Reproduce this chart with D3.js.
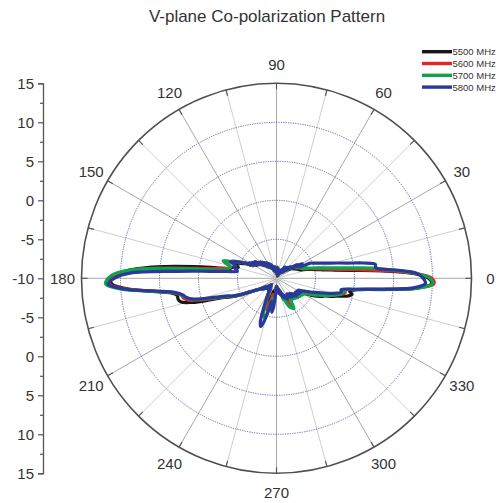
<!DOCTYPE html>
<html><head><meta charset="utf-8">
<script src="https://cdn.jsdelivr.net/npm/d3@7"></script>
<style>body{margin:0;background:#fff} svg{display:block} text{font-family:"Liberation Sans",Arial,sans-serif}</style>
</head><body><svg id="c" width="499" height="503"></svg>
<script>
const angles=[0,2,4,6,8,10,12,14,16,18,20,22,24,26,28,30,32,34,36,38,40,42,44,46,48,50,52,54,56,58,60,62,64,66,68,70,72,74,76,78,80,82,84,86,88,90,92,94,96,98,100,102,104,106,108,110,112,114,116,118,120,122,124,126,128,130,132,134,136,138,140,142,144,146,148,150,152,154,156,158,160,162,164,166,168,170,172,174,176,178,180,182,184,186,188,190,192,194,196,198,200,202,204,206,208,210,212,214,216,218,220,222,224,226,228,230,232,234,236,238,240,242,244,246,248,250,252,254,256,258,260,262,264,266,268,270,272,274,276,278,280,282,284,286,288,290,292,294,296,298,300,302,304,306,308,310,312,314,316,318,320,322,324,326,328,330,332,334,336,338,340,342,344,346,348,350,352,354,356,358];
const s5500=[9.5,7.6,3.6,-0.2,-2.4,-3.8,-4.6,-5.3,-5.9,-6.4,
-6.9,-6.4,-7.2,-6.8,-7.5,-6.6,-7.8,-7.2,-8.2,-7.8,
-8.5,-8.0,-8.9,-8.3,-9.1,-8.6,-9.0,-8.4,-9.2,-8.8,
-9.4,-8.9,-9.6,-9.1,-9.7,-9.0,-9.4,-9.2,-9.6,-9.1,
-9.4,-8.8,-9.3,-8.7,-9.2,-9.0,-9.4,-8.8,-9.3,-8.7,
-9.2,-8.6,-9.1,-8.5,-9.0,-8.3,-8.8,-8.1,-8.6,-8.0,
-8.5,-7.8,-8.3,-7.7,-8.2,-7.4,-7.9,-7.2,-7.7,-7.0,
-7.3,-6.7,-7.1,-6.5,-6.9,-6.2,-6.6,-5.8,-5.4,-4.8,
-4.3,-4.6,-4.9,-4.2,-3.9,-2.2,0.7,4.4,7.8,10.1,
11.3,11.1,9.2,6.0,3.6,2.9,2.9,2.6,1.2,-1.0,
-2.8,-3.6,-4.6,-5.6,-6.4,-7.0,-7.4,-7.7,-8.1,-7.9,
-8.4,-8.1,-8.7,-8.3,-8.9,-8.5,-9.0,-8.4,-8.8,-8.2,
-8.6,-8.0,-7.6,-7.0,-6.5,-6.2,-6.6,-7.4,-8.0,-8.4,
-7.8,-7.2,-7.9,-8.4,-8.8,-9.0,-8.6,-8.9,-8.3,-8.7,
-8.2,-8.6,-7.9,-8.3,-7.6,-7.8,-7.0,-6.8,-6.6,-6.4,
-6.8,-6.5,-7.2,-6.8,-7.3,-6.7,-7.2,-6.6,-7.0,-6.5,
-6.9,-6.4,-6.8,-6.3,-6.7,-6.0,-5.8,-5.0,-4.4,-3.8,
-3.4,-2.5,-1.7,-0.6,-0.1,-0.5,0.5,3.6,8.0,9.9];
const s5600=[9.9,7.8,4.0,0.5,-1.8,-3.2,-4.2,-4.9,-5.5,-6.0,
-6.5,-6.0,-6.8,-6.4,-7.2,-6.3,-7.5,-7.0,-8.0,-7.6,
-8.4,-7.9,-8.8,-8.1,-9.0,-8.5,-8.9,-8.3,-9.1,-8.7,
-9.3,-8.8,-9.5,-9.1,-9.6,-8.9,-9.3,-9.2,-9.5,-9.0,
-9.3,-8.7,-9.2,-8.6,-9.1,-8.9,-9.3,-8.7,-9.2,-8.5,
-9.1,-8.5,-9.0,-8.4,-8.9,-8.2,-8.7,-8.0,-8.5,-7.9,
-8.4,-7.6,-8.2,-7.6,-8.1,-7.3,-7.8,-7.1,-7.6,-6.9,
-7.2,-6.6,-7.0,-6.4,-6.8,-6.1,-6.5,-5.6,-5.0,-4.4,
-3.8,-2.9,-3.5,-4.0,-3.8,-2.8,-1.0,2.6,7.2,9.8,
11.2,11.4,9.5,5.8,3.3,2.4,2.2,1.6,0.0,-1.8,
-3.1,-3.8,-4.7,-5.7,-6.4,-7.0,-7.3,-7.6,-8.0,-7.8,
-8.3,-8.0,-8.6,-8.2,-8.8,-8.4,-8.9,-8.3,-8.7,-8.1,
-8.5,-7.9,-7.5,-7.0,-6.5,-6.0,-5.8,-6.4,-7.2,-7.9,
-7.6,-6.8,-7.4,-8.2,-8.7,-8.9,-8.5,-8.8,-8.2,-8.6,
-8.1,-8.5,-7.8,-8.1,-7.4,-7.6,-7.0,-7.2,-6.4,-5.9,
-6.2,-6.8,-7.2,-6.7,-7.3,-6.6,-7.1,-6.5,-6.9,-6.4,
-6.8,-6.3,-6.7,-6.2,-6.6,-6.0,-6.2,-5.5,-4.9,-4.3,
-3.7,-3.0,-2.3,-1.5,-1.0,-1.1,0.3,3.6,8.1,10.2];
const s5700=[9.7,7.9,5.0,2.5,-0.4,-2.3,-3.6,-4.5,-5.2,-5.8,
-6.4,-6.0,-6.8,-6.3,-7.2,-6.4,-7.6,-7.0,-8.0,-7.7,
-8.4,-7.8,-8.8,-8.1,-9.0,-8.5,-8.9,-8.2,-9.1,-8.6,
-9.3,-8.8,-9.5,-9.0,-9.6,-8.9,-9.3,-9.2,-9.5,-8.9,
-9.3,-8.7,-9.2,-8.6,-9.1,-8.9,-9.3,-8.7,-9.2,-8.5,
-9.1,-8.5,-9.0,-8.4,-8.9,-8.2,-8.7,-8.0,-8.5,-7.9,
-8.4,-7.6,-8.2,-7.5,-8.1,-7.3,-7.8,-7.1,-7.6,-6.9,
-7.2,-6.6,-7.0,-6.4,-6.8,-6.1,-6.4,-5.5,-4.8,-4.2,
-3.7,-2.8,-3.4,-3.9,-3.7,-3.6,-2.4,1.8,7.4,10.4,
11.6,11.9,9.9,5.9,3.3,2.3,1.9,1.2,-0.4,-2.0,
-3.2,-3.8,-4.7,-5.7,-6.4,-7.0,-7.3,-7.6,-8.0,-7.7,
-8.3,-8.0,-8.6,-8.2,-8.8,-8.4,-8.9,-8.3,-8.7,-8.1,
-8.5,-7.8,-7.3,-6.8,-6.0,-5.2,-4.9,-4.6,-5.8,-7.2,
-7.4,-6.6,-7.2,-8.0,-8.6,-8.9,-8.5,-8.8,-8.2,-8.6,
-8.1,-8.5,-7.8,-8.0,-7.2,-7.0,-6.5,-6.1,-5.8,-5.7,
-5.5,-6.3,-7.0,-6.6,-7.2,-6.6,-7.1,-6.5,-6.9,-6.3,
-6.8,-6.2,-6.6,-6.1,-6.5,-6.0,-6.1,-5.4,-4.8,-4.2,
-3.6,-2.9,-2.2,-1.6,-1.2,-1.3,0.2,3.8,8.2,10.0];
const s5800=[8.8,8.0,5.3,2.8,2.8,1.3,-0.6,-1.9,-2.9,-3.7,
-4.3,-4.8,-5.2,-6.5,-6.8,-6.2,-7.5,-6.8,-8.0,-7.6,
-8.3,-7.8,-8.8,-8.0,-9.0,-8.4,-8.9,-8.2,-9.1,-8.6,
-9.3,-8.8,-9.5,-9.0,-9.6,-8.9,-9.4,-9.1,-9.5,-9.0,
-9.3,-8.7,-9.2,-8.6,-9.1,-8.9,-9.3,-8.7,-9.2,-8.6,
-9.1,-8.5,-9.0,-8.4,-8.9,-8.2,-8.7,-8.0,-8.5,-7.9,
-8.4,-7.7,-8.2,-7.6,-8.1,-7.3,-7.8,-7.1,-7.6,-6.9,
-7.2,-6.5,-7.0,-6.3,-6.7,-6.0,-6.4,-5.5,-5.0,-4.2,
-3.7,-4.3,-4.6,-4.4,-4.8,-4.9,-3.6,-1.4,2.8,8.8,
10.8,11.6,9.6,5.6,3.1,2.2,1.8,1.0,-0.8,-2.3,
-3.4,-3.9,-4.8,-5.8,-6.5,-7.0,-7.3,-7.6,-8.0,-7.7,
-8.3,-8.0,-8.6,-8.2,-8.8,-8.4,-8.9,-8.3,-8.7,-8.0,
-8.4,-7.6,-7.0,-6.2,-5.0,-3.9,-3.5,-4.3,-5.8,-7.0,
-6.6,-5.6,-6.2,-7.6,-8.5,-8.9,-8.4,-8.8,-8.1,-8.6,
-8.0,-8.5,-7.8,-8.2,-7.5,-7.9,-7.3,-7.6,-7.2,-7.0,
-7.4,-7.2,-7.6,-7.0,-7.5,-6.9,-7.4,-6.8,-7.2,-6.6,
-7.0,-6.6,-7.0,-6.5,-6.9,-6.4,-6.8,-6.3,-5.9,-5.3,
-4.7,-4.0,-3.0,-2.1,-1.5,-1.6,0.1,3.4,7.6,9.1];
const seriesNames=["5500 MHz","5600 MHz","5700 MHz","5800 MHz"];
const seriesColors=["#161616","#e5242a","#0ba54c","#2a379b"];
const rGridValues=[-5,0,5,10];
const spokeAngles=[0,15,30,45,60,75,90,105,120,135,150,165,180,195,210,225,240,255,270,285,300,315,330,345];
const angleLabelAngles=[0,30,60,90,120,150,180,210,240,270,300,330];
const angleLabels=["0","30","60","90","120","150","180","210","240","270","300","330"];
const yTickValues=[-25,-20,-15,-10,-5,0,5,10,15,20,25];
const yTickLabels=["15","10","5","0","-5","-10","-5","0","5","10","15"];
const yMinorValues=[-22.5,-17.5,-12.5,-7.5,-2.5,2.5,7.5,12.5,17.5,22.5];
const titleText="V-plane Co-polarization Pattern";

const svg=d3.select("#c");
const cx=276.5, cy=278.3, R=195;
const rScale=d3.scaleLinear().domain([-10,15]).range([0,R]);
const rad=a=>a*Math.PI/180;
const g=svg.append("g").attr("transform",`translate(${cx},${cy})`);

svg.append("text").attr("x",267).attr("y",22).attr("text-anchor","middle")
  .attr("font-size",17).attr("fill","#333").text(titleText);

g.selectAll("line.spoke").data(spokeAngles).join("line")
  .attr("x1",0).attr("y1",0)
  .attr("x2",d=>R*Math.cos(rad(d))).attr("y2",d=>-R*Math.sin(rad(d)))
  .attr("stroke",d=>d%30===0?"#a8a8a8":"#cfcfcf").attr("stroke-width",1);
g.selectAll("circle.grid").data(rGridValues).join("circle")
  .attr("r",d=>rScale(d)).attr("fill","none").attr("stroke","#5b63b5")
  .attr("stroke-width",1).attr("stroke-dasharray","1.2,1.2");
g.append("circle").attr("r",rScale(15)).attr("fill","none").attr("stroke","#505050").attr("stroke-width",1.6);
g.selectAll("line.otick").data(spokeAngles).join("line")
  .attr("x1",d=>R*Math.cos(rad(d))).attr("y1",d=>-R*Math.sin(rad(d)))
  .attr("x2",d=>(R-6)*Math.cos(rad(d))).attr("y2",d=>-(R-6)*Math.sin(rad(d)))
  .attr("stroke","#555").attr("stroke-width",1.2);
g.selectAll("text.al").data(angleLabelAngles).join("text")
  .attr("x",d=>(R+19)*Math.cos(rad(d))).attr("y",d=>-(R+19)*Math.sin(rad(d)))
  .attr("text-anchor","middle").attr("dominant-baseline","central")
  .attr("font-size",15).attr("fill","#333").text((d,i)=>angleLabels[i]);

const series=[s5500,s5600,s5700,s5800];
const line=d3.lineRadial()
  .angle(d=>rad(90-d.a)).radius(d=>rScale(Math.max(-10,d.v)))
  .curve(d3.curveCatmullRomClosed.alpha(0.5));
series.forEach((s,k)=>{
  const pts=angles.map((a,i)=>({a:a,v:s[i]}));
  g.append("path").attr("d",line(pts)).attr("fill","none")
   .attr("stroke",seriesColors[k]).attr("stroke-width",3.2).attr("stroke-linejoin","round");
});

const yScale=d3.scaleLinear().domain([-25,25]).range([cy+R,cy-R]);
const ax=svg.append("g").attr("transform","translate(43,0)")
  .call(d3.axisLeft(yScale).tickValues(yTickValues).tickFormat((d,i)=>yTickLabels[i]).tickSize(5).tickSizeOuter(5).tickPadding(4));
ax.select(".domain").attr("stroke","#555").attr("stroke-width",1.3);
ax.selectAll(".tick line").attr("stroke","#555").attr("stroke-width",1.2);
ax.selectAll(".tick text").attr("font-size",15).attr("fill","#333").attr("font-family","Liberation Sans, Arial, sans-serif");
const axm=svg.append("g").attr("transform","translate(43,0)")
  .call(d3.axisLeft(yScale).tickValues(yMinorValues).tickFormat("").tickSize(3));
axm.select(".domain").remove();
axm.selectAll(".tick line").attr("stroke","#555").attr("stroke-width",1.2);

const lg=svg.append("g");
seriesNames.forEach((n,k)=>{
  const y=51.7+k*11.8;
  lg.append("line").attr("x1",422).attr("x2",452).attr("y1",y).attr("y2",y)
    .attr("stroke",seriesColors[k]).attr("stroke-width",3.4);
  lg.append("text").attr("x",452.5).attr("y",y).attr("dominant-baseline","central")
    .attr("font-size",9.5).attr("fill","#333").text(n);
});
</script></body></html>
